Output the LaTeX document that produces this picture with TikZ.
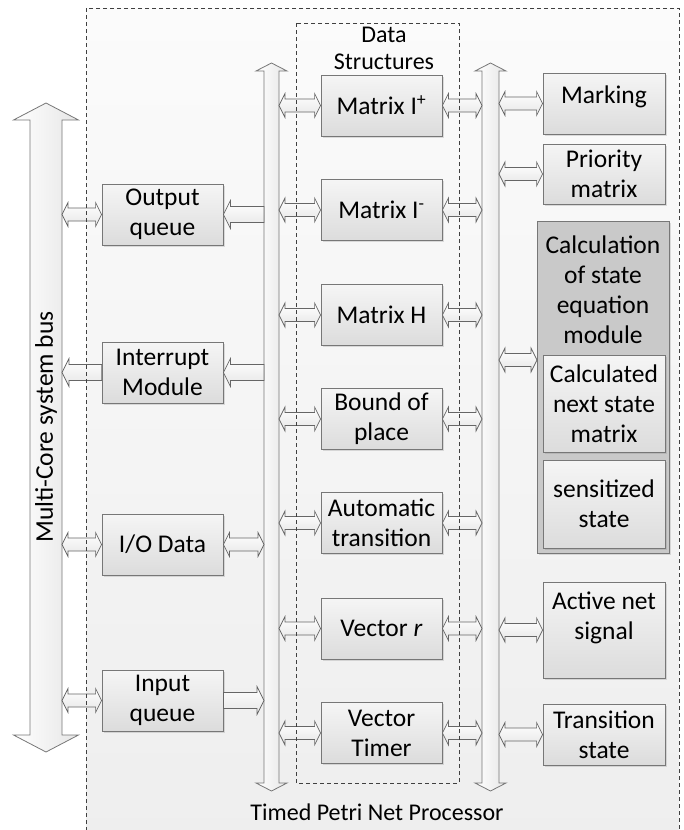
\documentclass[tikz,border=0pt]{standalone}
\usepackage{fontspec}
\setmainfont{Carlito}
\usetikzlibrary{calc,shadows}
\definecolor{bord}{HTML}{777777}
\definecolor{arrbord}{HTML}{666666}
\definecolor{boxtop}{HTML}{F5F5F5}
\definecolor{boxbot}{HTML}{DCDCDC}
\definecolor{arrbot}{HTML}{E6E6E6}
\definecolor{calcfill}{HTML}{C9C9C9}
\definecolor{bgtop}{HTML}{FBFBFB}
\definecolor{bgbot}{HTML}{EEEEEE}
\definecolor{dashc}{HTML}{404040}
\tikzset{
  txt/.style={font=\fontsize{25.5}{30}\selectfont, align=center, text=black},
  box/.style={txt, draw=bord, line width=0.8pt, top color=boxtop, bottom color=boxbot,
    inner sep=0pt, drop shadow={shadow xshift=1.5pt, shadow yshift=-1.5pt, opacity=0.25}},
  lbox/.style={box, minimum width=121pt, minimum height=61pt},
  blk/.style={draw=arrbord, line width=0.7pt, top color=white, bottom color=arrbot},
  busarrow/.style={draw=bord, line width=0.8pt, left color=white, right color=arrbot},
  dashbox/.style={draw=dashc, line width=0.7pt, dash pattern=on 4pt off 3pt},
}
\newcommand\blkdbl[2]{\path[blk] let \p1=#1, \p2=#2 in
 (\x1,\y1) -- ({\x1+6pt},{\y1+12pt}) -- ({\x1+6pt},{\y1+6.5pt}) -- ({\x2-6pt},{\y1+6.5pt}) -- ({\x2-6pt},{\y1+12pt}) -- (\x2,\y1)
 -- ({\x2-6pt},{\y1-12pt}) -- ({\x2-6pt},{\y1-6.5pt}) -- ({\x1+6pt},{\y1-6.5pt}) -- ({\x1+6pt},{\y1-12pt}) -- cycle;}
\newcommand\blkleft[2]{\path[blk] let \p1=#1, \p2=#2 in
 (\x1,\y1) -- ({\x1+7pt},{\y1+14pt}) -- ({\x1+7pt},{\y1+8pt}) -- ({\x2},{\y1+8pt}) -- ({\x2},{\y1-8pt}) -- ({\x1+7pt},{\y1-8pt}) -- ({\x1+7pt},{\y1-14pt}) -- cycle;}
\newcommand\blkright[2]{\path[blk] let \p1=#1, \p2=#2 in
 (\x2,\y1) -- ({\x2-7pt},{\y1+14pt}) -- ({\x2-7pt},{\y1+8pt}) -- ({\x1},{\y1+8pt}) -- ({\x1},{\y1-8pt}) -- ({\x2-7pt},{\y1-8pt}) -- ({\x2-7pt},{\y1-14pt}) -- cycle;}
\newcommand\blkvbus[6]{\path[busarrow]
 (#1,#2) -- ({#1+#5},{#2+#6}) -- ({#1+#4},{#2+#6}) -- ({#1+#4},{#3-#6}) -- ({#1+#5},{#3-#6}) -- (#1,#3)
 -- ({#1-#5},{#3-#6}) -- ({#1-#4},{#3-#6}) -- ({#1-#4},{#2+#6}) -- ({#1-#5},{#2+#6}) -- cycle;}
\begin{document}
\begin{tikzpicture}[x=1pt,y=-1pt]
\useasboundingbox (0,0) rectangle (684,830);
\clip (0,0) rectangle (684,830);
% background of processor
\path[top color=bgtop, bottom color=bgbot] (86,8) rectangle (679,850);

% buses
\blkvbus{46}{103}{752}{16}{32.5}{17}
\blkvbus{271.5}{63}{791}{7.5}{15.5}{8}
\blkvbus{490.5}{63}{791}{8.5}{15.5}{8}
\coordinate (lbusR) at (62,0);
\coordinate (ibusL) at (264,0);
\coordinate (ibusR) at (279,0);
\coordinate (rbusL) at (482,0);
\coordinate (rbusR) at (499,0);
\node[txt, rotate=90] (buslabel) at (46,427) {Multi-Core system bus};

% left modules
\node[lbox] (outq) at (162.5,214.5) {Output\\queue};
\node[lbox] (intm) at (162.5,372.5) {Interrupt\\Module};
\node[lbox] (iod)  at (162.5,544.5) {I/O Data};
\node[lbox] (inq)  at (162.5,700.5) {Input\\queue};

% data structures
\node[txt, font=\fontsize{24}{27}\selectfont] (dslabel) at (384,48) {Data\\Structures};
\node[lbox] (mip) at (381.5,105.5) {Matrix I\textsuperscript{+}};
\node[lbox] (mim) at (381.5,210) {Matrix I\textsuperscript{-}};
\node[lbox] (mh)  at (381.5,315) {Matrix H};
\node[lbox] (bp)  at (381.5,419) {Bound of\\place};
\node[lbox] (at)  at (381.5,523) {Automatic\\transition};
\node[lbox] (vr)  at (381.5,628.5) {Vector \textit{r}};
\node[lbox] (vt)  at (381.5,733) {Vector\\Timer};

% right modules
\node[box, minimum width=122pt, minimum height=61pt] (mark) at (604,103.5) {};
\node[txt] (marktxt) at (604,97) {Marking};
\node[box, minimum width=122pt, minimum height=60pt] (prio) at (604,174) {Priority\\matrix};
\node[draw=bord, line width=0.8pt, fill=calcfill, minimum width=132pt, minimum height=332pt,
      drop shadow={shadow xshift=1.5pt, shadow yshift=-1.5pt, opacity=0.25}] (calc) at (603,387) {};
\node[txt] (calctxt) at (603,290) {Calculation\\of state\\equation\\module};
\node[box, minimum width=122pt, minimum height=97pt] (cnext) at (604,403.5) {Calculated\\next state\\matrix};
\node[box, minimum width=122pt, minimum height=88pt] (sens) at (604,504) {sensitized\\state};
\node[box, minimum width=122pt, minimum height=96pt] (act) at (604,630) {};
\node[txt] (acttxt) at (604,618) {Active net\\signal};
\node[box, minimum width=122pt, minimum height=61pt] (trans) at (604,734.5) {Transition\\state};
\coordinate (calcin) at (537,360);

% left connectors
\blkdbl{(lbusR |- outq.west)}{(outq.west)}
\blkleft{(outq.east)}{(ibusL |- outq.east)}
\blkleft{(lbusR |- intm.west)}{(intm.west)}
\blkleft{(intm.east)}{(ibusL |- intm.east)}
\blkdbl{(lbusR |- iod.west)}{(iod.west)}
\blkdbl{(iod.east)}{(ibusL |- iod.east)}
\blkdbl{(lbusR |- inq.west)}{(inq.west)}
\blkright{(inq.east)}{(ibusL |- inq.east)}

% data structure connectors
\foreach \d in {mip,mim,mh,bp,at,vr,vt}{
  \blkdbl{(ibusR |- \d.west)}{(\d.west)}
  \blkdbl{(\d.east)}{(rbusL |- \d.east)}
}

% right connectors
\blkdbl{(rbusR |- mark.west)}{(mark.west)}
\blkdbl{(rbusR |- prio.west)}{(prio.west)}
\blkdbl{(rbusR |- calcin)}{(calcin)}
\blkdbl{(rbusR |- act.west)}{(act.west)}
\blkdbl{(rbusR |- trans.west)}{(trans.west)}

% dashed frames
\draw[dashbox] (86,8) rectangle (679,850);
\draw[dashbox] (296,23) rectangle (459,783);
\node[txt, font=\fontsize{24}{27}\selectfont] (proclabel) at (377,812) {Timed Petri Net Processor};
\end{tikzpicture}
\end{document}
